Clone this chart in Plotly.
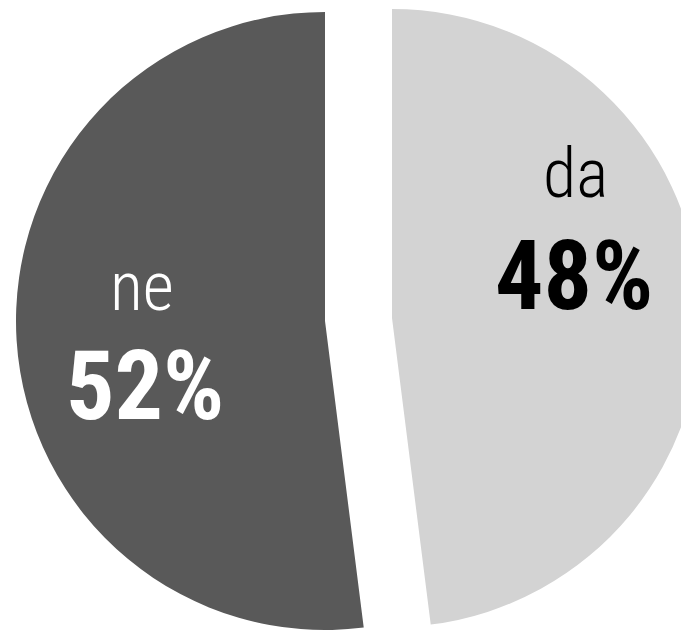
import plotly.graph_objects as go

categories = ["da", "ne"]
values = [48, 52]
percent_labels = ["48%", "52%"]
colors = ["#d3d3d3", "#595959"]
text_colors = ["#000000", "#ffffff"]

# the page body adds an 8px margin, so the figure is made a bit larger
# than the window and everything is placed in figure pixels
W, H = 700, 640
FONT = "Roboto Condensed, Liberation Sans Narrow, DejaVu Sans Condensed, Arial Narrow, Roboto, sans-serif"


def dom(x0, x1, y0, y1):
    return dict(x=[x0 / W, x1 / W], y=[1 - y1 / H, 1 - y0 / H])


fig = go.Figure()

# each exploded slice drawn as its own pie (the other slice transparent)
domains = [
    dom(75, 693, 1, 619),   # da (light), shifted right
    dom(8, 626, 4, 622),    # ne (dark), shifted left
]
for i in range(len(categories)):
    cols = ["rgba(0,0,0,0)"] * len(categories)
    cols[i] = colors[i]
    fig.add_trace(go.Pie(
        labels=categories,
        values=values,
        sort=False,
        direction="clockwise",
        rotation=0,
        marker=dict(colors=cols, line=dict(width=0)),
        textinfo="none",
        hoverinfo="skip",
        showlegend=False,
        domain=domains[i],
    ))

label_pos = [(567, 166), (134, 279)]
pct_pos = [(566, 268), (137, 378)]
for i in range(len(categories)):
    fig.add_annotation(
        x=label_pos[i][0] / W, y=1 - label_pos[i][1] / H, xref="paper", yref="paper",
        text=categories[i], showarrow=False, xanchor="center", yanchor="middle",
        font=dict(family=FONT, size=68, color=text_colors[i], weight=300),
    )
    fig.add_annotation(
        x=pct_pos[i][0] / W, y=1 - pct_pos[i][1] / H, xref="paper", yref="paper",
        text="<b>" + percent_labels[i] + "</b>", showarrow=False, xanchor="center", yanchor="middle",
        font=dict(family=FONT, size=96, color=text_colors[i]),
    )

fig.update_layout(
    width=W, height=H,
    margin=dict(l=0, r=0, t=0, b=0),
    paper_bgcolor="white",
    plot_bgcolor="white",
)

fig.write_html("out.html")
